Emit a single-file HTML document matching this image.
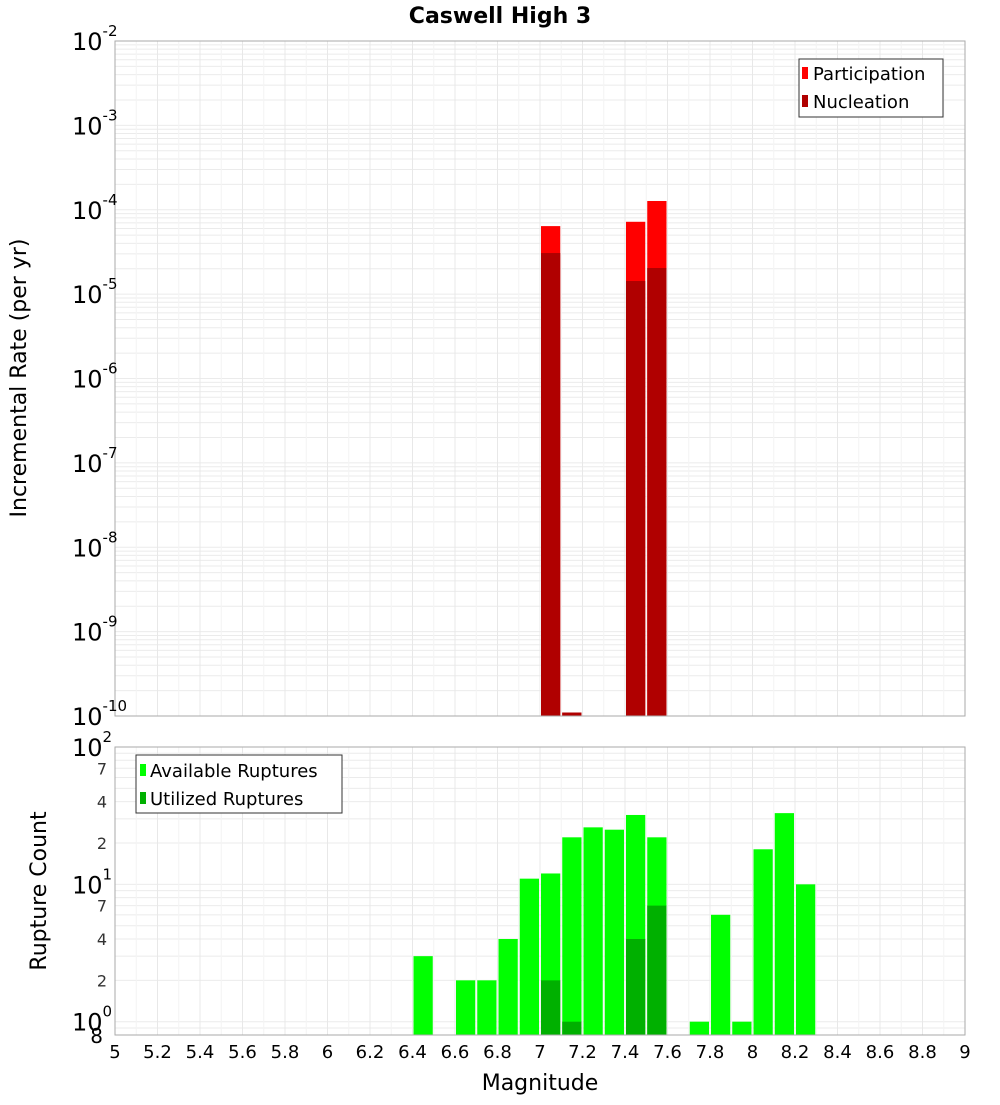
<!DOCTYPE html>
<html><head><meta charset="utf-8"><style>
body{margin:0;background:#fff;}
svg text{font-family:"DejaVu Sans","Liberation Sans",sans-serif;}
</style></head><body>
<svg id="c" width="1000" height="1100" xmlns="http://www.w3.org/2000/svg"></svg>
<script>
const mags=[7.0,7.1,7.4,7.5];
const partRates=[6.4e-5,1.1e-10,7.2e-5,1.27e-4];
const nuclRates=[3.07e-5,1.1e-10,1.43e-5,2.04e-5];
const cntMags=[6.4,6.6,6.7,6.8,6.9,7.0,7.1,7.2,7.3,7.4,7.5,7.7,7.8,7.9,8.0,8.1,8.2];
const availCounts=[3,2,2,4,11,12,22,26,25,32,22,1,6,1,18,33,10];
const utilMags=[7.0,7.1,7.4,7.5];
const utilCounts=[2,1,4,7];
const xTicks=[5,5.2,5.4,5.6,5.8,6,6.2,6.4,6.6,6.8,7,7.2,7.4,7.6,7.8,8,8.2,8.4,8.6,8.8,9];
const topExps=[-10,-9,-8,-7,-6,-5,-4,-3,-2];

const svg=document.getElementById('c');const NS='http://www.w3.org/2000/svg';
function mk(t,a,p){const e=document.createElementNS(NS,t);for(const k in a)e.setAttribute(k,a[k]);(p||svg).appendChild(e);return e;}
const X0=115,X1=965;
const x=m=>X0+(m-5)/4*(X1-X0);
const T0=41,T1=716;
const yT=v=>T1-(Math.log10(v)+10)/8*(T1-T0);
const B0=747,B1=1035;
const lmin=Math.log10(0.8),lmax=2;
const yB=v=>B1-(Math.log10(v)-lmin)/(lmax-lmin)*(B1-B0);

// title
let t=mk('text',{x:500,y:23,'text-anchor':'middle','font-size':22,'font-weight':'bold'});t.textContent='Caswell High 3';


// top panel grid
let g=mk('g',{});
for(let e=-10;e<-2;e++)for(let k=1;k<10;k++){const y=yT(k*Math.pow(10,e));mk('line',{x1:X0,x2:X1,y1:y,y2:y,stroke:'#ebebeb','stroke-width':1},g);}
for(let i=0;i<=40;i++){const xx=x(5+i*0.1);mk('line',{x1:xx,x2:xx,y1:T0,y2:T1,stroke:i%2?'#f4f4f4':'#e8e8e8'},g);}
// top bars
mags.forEach((m,i)=>{
 let r=mk('rect',{x:x(m)+1,y:yT(partRates[i]),width:x(m+0.1)-x(m)-2,height:T1-yT(partRates[i]),fill:'#ff0000'});
 
 r=mk('rect',{x:x(m)+1,y:yT(nuclRates[i]),width:x(m+0.1)-x(m)-2,height:T1-yT(nuclRates[i]),fill:'#b00000'});
 
});
let fr=mk('rect',{x:X0,y:T0,width:X1-X0,height:T1-T0,fill:'none',stroke:'#aaa'});
topExps.forEach(e=>{const y=yT(Math.pow(10,e));
 const tt=mk('text',{x:105,y:y+9,'text-anchor':'end','font-size':24});tt.textContent='10';
 const s=mk('tspan',{dy:-14,'font-size':15},tt);s.textContent=String(e);
 
 // fix: place exponent to right
 tt.setAttribute('text-anchor','start');tt.setAttribute('x',72);
});
t=mk('text',{x:26,y:378,'text-anchor':'middle','font-size':22,transform:'rotate(-90 26 378)'});t.textContent='Incremental Rate (per yr)';

// top legend
let lg=mk('g',{});
mk('rect',{x:799,y:59,width:144,height:58,fill:'#fff',stroke:'#333'},lg);
mk('rect',{x:802,y:67,width:6,height:12,fill:'#ff0000'},lg);
mk('rect',{x:802,y:95,width:6,height:12,fill:'#b00000'},lg);
t=mk('text',{x:813,y:80,'font-size':18},lg);t.textContent='Participation';
t=mk('text',{x:813,y:108,'font-size':18},lg);t.textContent='Nucleation';

// bottom grid
g=mk('g',{});
for(let e=-1;e<2;e++)for(let k=1;k<10;k++){const v=k*Math.pow(10,e);if(v<0.8)continue;const y=yB(v);mk('line',{x1:X0,x2:X1,y1:y,y2:y,stroke:'#ebebeb'},g);}
for(let i=0;i<=40;i++){const xx=x(5+i*0.1);mk('line',{x1:xx,x2:xx,y1:B0,y2:B1,stroke:i%2?'#f4f4f4':'#e8e8e8'},g);}
cntMags.forEach((m,i)=>{const r=mk('rect',{x:x(m)+1,y:yB(availCounts[i]),width:x(m+0.1)-x(m)-2,height:B1-yB(availCounts[i]),fill:'#00ff00'});
 });
utilMags.forEach((m,i)=>{const r=mk('rect',{x:x(m)+1,y:yB(utilCounts[i]),width:x(m+0.1)-x(m)-2,height:B1-yB(utilCounts[i]),fill:'#00b000'});
 });
fr=mk('rect',{x:X0,y:B0,width:X1-X0,height:B1-B0,fill:'none',stroke:'#aaa'});
[0,1,2].forEach(e=>{const y=yB(Math.pow(10,e));
 const tt=mk('text',{x:72,y:y+9,'font-size':24});tt.textContent='10';
 const s=mk('tspan',{dy:-14,'font-size':15},tt);s.textContent=String(e);
 });
[2,4,7,20,40,70].forEach(v=>{const tt=mk('text',{x:107,y:yB(v)+6,'text-anchor':'end','font-size':16,fill:'#333'});tt.textContent=String(String(v)[0]);
 });
t=mk('text',{x:103,y:1043,'text-anchor':'end','font-size':20});t.textContent='8';
t=mk('text',{x:46,y:891,'text-anchor':'middle','font-size':22,transform:'rotate(-90 46 891)'});t.textContent='Rupture Count';

xTicks.forEach(v=>{const tt=mk('text',{x:x(v),y:1058,'text-anchor':'middle','font-size':18});tt.textContent=String(v);
 });
t=mk('text',{x:540,y:1090,'text-anchor':'middle','font-size':22});t.textContent='Magnitude';

lg=mk('g',{});
mk('rect',{x:136,y:755,width:206,height:58,fill:'#fff',stroke:'#333'},lg);
mk('rect',{x:140,y:764,width:6,height:12,fill:'#00ff00'},lg);
mk('rect',{x:140,y:792,width:6,height:12,fill:'#00b000'},lg);
t=mk('text',{x:150,y:777,'font-size':18},lg);t.textContent='Available Ruptures';
t=mk('text',{x:150,y:805,'font-size':18},lg);t.textContent='Utilized Ruptures';
</script>
</body></html>
